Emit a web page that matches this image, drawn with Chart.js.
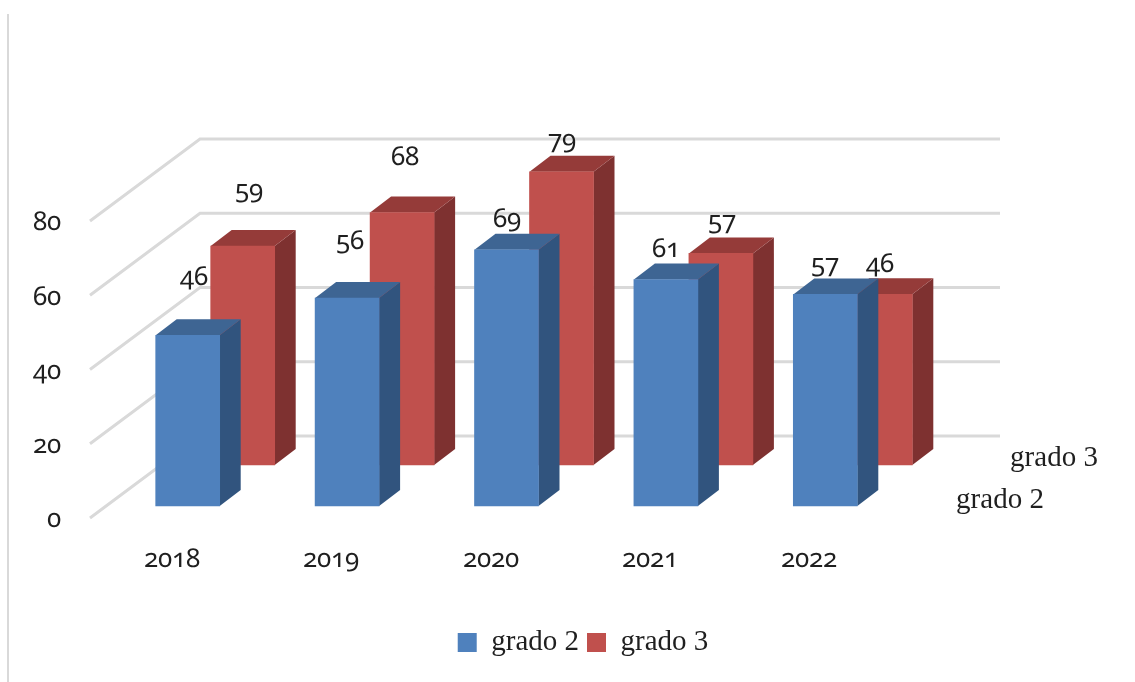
<!DOCTYPE html>
<html>
<head>
<meta charset="utf-8">
<title>grado 2 / grado 3</title>
<script src="https://cdn.jsdelivr.net/npm/chart.js@4"></script>
<style>
@font-face { font-family: "OldNum"; src: local("Noto Sans Light"), local("Noto Sans"); font-feature-settings: "onum" 1; }
html, body { margin: 0; background: #fff; }
#wrap { position: relative; width: 1135px; height: 682px; }
canvas { font-variant-numeric: oldstyle-nums; font-feature-settings: "onum" 1; }
</style>
</head>
<body>
<div id="wrap"><canvas id="chartArea" width="1135" height="682"></canvas></div>
<script>
const years = ["2018", "2019", "2020", "2021", "2022"];
const grado2 = [46, 56, 69, 61, 57];
const grado3 = [59, 68, 79, 57, 46];
const yTicks = [0, 20, 40, 60, 80];

const numFont = '"OldNum", "Noto Sans", sans-serif';
const wordFont = '"Liberation Serif", serif';
const inkColor = "#1f1f1f";
const gridColor = "#d9d9d9";

// how far each series sits back on the floor, and how deep a bar is
const seriesShift = [{ x: 16, y: -12 }, { x: 71, y: -53 }];
const barDepth = { x: 21, y: -16 };
const wallDepth = { x: 110, y: -82 };

const faceColors = [
    { side: "#31547e", top: "#3e6593" },
    { side: "#7e3130", top: "#953b39" }
];
// hand placed data labels in the reference: distance above bar top, sideways nudge
const labelLift = [[58, 57, 30, 30, 30], [55, 55, 31, 32, 30]];
const labelNudge = [[6, 3, 0, 0, 0], [6, 3, 0, 1, 0]];

const depthBars = {
    id: "depthBars",
    beforeDraw(chart) {
        let ctx = chart.ctx;
        ctx.save();
        ctx.fillStyle = gridColor;
        ctx.fillRect(7, 14, 2, chart.height - 14);
        ctx.restore();
    },
    beforeDatasetsDraw(chart) {
        let ctx = chart.ctx;
        let y = chart.scales.y;
        let left = chart.chartArea.left - 2;
        ctx.save();
        ctx.strokeStyle = gridColor;
        ctx.lineWidth = 3;
        yTicks.forEach(v => {
            let py = y.getPixelForValue(v);
            ctx.beginPath();
            ctx.moveTo(left, py);
            ctx.lineTo(left + wallDepth.x, py + wallDepth.y);
            ctx.lineTo(1000, py + wallDepth.y);
            ctx.stroke();
        });
        ctx.restore();
    },
    beforeDatasetDraw(chart, args) {
        let ctx = chart.ctx;
        let shift = seriesShift[args.index];
        let colors = faceColors[args.index];
        ctx.save();
        ctx.translate(shift.x, shift.y);
        args.meta.data.forEach(bar => {
            let l = bar.x - bar.width / 2;
            let r = bar.x + bar.width / 2;
            ctx.fillStyle = colors.side;
            ctx.beginPath();
            ctx.moveTo(r, bar.y);
            ctx.lineTo(r + barDepth.x, bar.y + barDepth.y);
            ctx.lineTo(r + barDepth.x, bar.base + barDepth.y);
            ctx.lineTo(r, bar.base);
            ctx.closePath();
            ctx.fill();
            ctx.fillStyle = colors.top;
            ctx.beginPath();
            ctx.moveTo(l, bar.y);
            ctx.lineTo(l + barDepth.x, bar.y + barDepth.y);
            ctx.lineTo(r + barDepth.x, bar.y + barDepth.y);
            ctx.lineTo(r, bar.y);
            ctx.closePath();
            ctx.fill();
        });
    },
    afterDatasetDraw(chart) {
        chart.ctx.restore();
    },
    afterDatasetsDraw(chart) {
        let ctx = chart.ctx;
        ctx.save();
        ctx.fillStyle = inkColor;
        ctx.textAlign = "center";
        ctx.textBaseline = "middle";
        ctx.font = "26px " + numFont;
        chart.data.datasets.forEach((ds, i) => {
            chart.getDatasetMeta(i).data.forEach((bar, j) => {
                let x = bar.x + seriesShift[i].x + labelNudge[i][j];
                let y = bar.y + seriesShift[i].y - labelLift[i][j];
                ctx.fillText(ds.data[j], x, y);
            });
        });
        // series names on the depth axis
        ctx.font = "29px " + wordFont;
        let floor = chart.scales.y.getPixelForValue(0);
        let right = chart.chartArea.right;
        ctx.fillText(chart.data.datasets[0].label, right + 111, floor - 18);
        ctx.fillText(chart.data.datasets[1].label, right + 165, floor - 60);
        ctx.restore();
    }
};

function draw() {
    new Chart(document.getElementById("chartArea"), {
        type: "bar",
        plugins: [depthBars],
        data: {
            labels: years,
            datasets: [
                { label: "grado 2", data: grado2, backgroundColor: "#4f81bd", borderWidth: 0, clip: false },
                { label: "grado 3", data: grado3, backgroundColor: "#c0504d", borderWidth: 0, clip: false }
            ]
        },
        options: {
            responsive: false,
            animation: false,
            layout: { padding: { left: 31, top: 221, right: 0, bottom: 15 } },
            datasets: { bar: { grouped: false, barThickness: 64 } },
            plugins: {
                tooltip: { enabled: false },
                legend: {
                    position: "bottom",
                    labels: {
                        boxWidth: 19,
                        boxHeight: 19,
                        padding: 8,
                        color: inkColor,
                        font: { family: wordFont, size: 29 }
                    }
                }
            },
            scales: {
                x: {
                    grid: { display: false, drawTicks: false },
                    border: { display: false },
                    afterFit: s => { s.height = 102; },
                    ticks: { padding: 26, color: inkColor, font: { family: numFont, size: 26 } }
                },
                y: {
                    min: 0,
                    max: 80,
                    afterFit: s => { s.width = 61; },
                    grid: { display: false, drawTicks: false },
                    border: { display: false },
                    afterBuildTicks: s => { s.ticks = yTicks.map(v => ({ value: v })); },
                    ticks: { padding: 31, labelOffset: 2, color: inkColor, font: { family: numFont, size: 26 } }
                },
                rightGap: {
                    position: "right",
                    afterFit: s => { s.width = 246; },
                    grid: { display: false, drawTicks: false },
                    border: { display: false },
                    ticks: { display: false }
                }
            }
        }
    });
}

document.fonts.load('26px "OldNum"').then(draw, draw);
</script>
</body>
</html>
